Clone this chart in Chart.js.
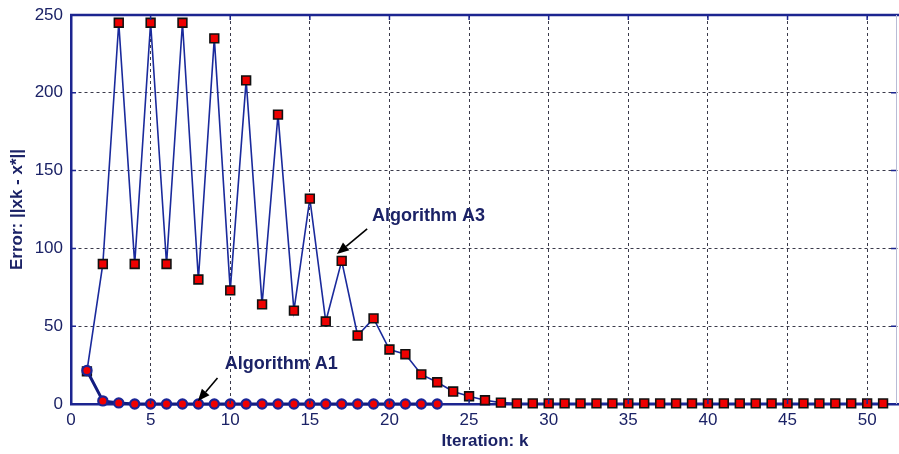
<!DOCTYPE html>
<html>
<head>
<meta charset="utf-8">
<script src="https://cdn.jsdelivr.net/npm/chart.js@4.4.1/dist/chart.umd.min.js"></script>
<style>
  html, body { margin: 0; padding: 0; background: #fff; }
  canvas { display: block; }
</style>
</head>
<body>
<canvas id="chart" width="899" height="454"></canvas>
<script>
// Data
const iterations = [];
for (let k = 1; k <= 51; k++) iterations.push(k);

const errorA3 = [21, 90, 245, 90, 245, 90, 245, 80, 235, 73,
                 208, 64, 186, 60, 132, 53, 92, 44, 55, 35,
                 32, 19, 14, 8, 5, 2.4, 0.9, 0.4, 0.4, 0.4,
                 0.4, 0.4, 0.4, 0.4, 0.4, 0.4, 0.4, 0.4, 0.4, 0.4,
                 0.4, 0.4, 0.4, 0.4, 0.4, 0.4, 0.4, 0.4, 0.4, 0.4, 0.4];
const errorA1 = [21.5, 2, 0.7, 0, 0, 0, 0, 0, 0, 0,
                 0, 0, 0, 0, 0, 0, 0, 0, 0, 0,
                 0, 0, 0];

const yTicks = [0, 50, 100, 150, 200, 250];

// Annotations (data coordinates)
const noteText = ['Algorithm A3', 'Algorithm A1'];
const noteAt = [[18.9, 121], [9.66, 25.7]];
const arrowFrom = [[18.6, 112.5], [9.2, 16.7]];
const arrowTo = [[16.7, 96.4], [7.97, 1.9]];

const navy = '#1c2590';
const textNavy = '#1b2266';

function pts(ys) {
  return ys.map((y, i) => ({ x: iterations[i], y: y }));
}

// Inside tick marks and the frame top/right
const framePlugin = {
  id: 'frame',
  afterDraw(chart) {
    const { ctx, chartArea: a, scales: { x, y } } = chart;
    ctx.save();
    ctx.strokeStyle = navy;
    ctx.lineWidth = 1.5;
    for (let v = 0; v <= 50; v += 5) {
      const px = x.getPixelForValue(v);
      ctx.beginPath();
      ctx.moveTo(px, a.top); ctx.lineTo(px, a.top + 5);
      ctx.moveTo(px, a.bottom); ctx.lineTo(px, a.bottom - 5);
      ctx.stroke();
    }
    yTicks.forEach(v => {
      const py = y.getPixelForValue(v);
      ctx.beginPath();
      ctx.moveTo(a.left, py); ctx.lineTo(a.left + 5, py);
      ctx.moveTo(a.right - 3, py); ctx.lineTo(a.right - 8, py);
      ctx.stroke();
    });
    // top border
    ctx.lineWidth = 2.5;
    ctx.beginPath();
    ctx.moveTo(a.left - 1, a.top); ctx.lineTo(a.right, a.top);
    ctx.stroke();
    // faint right border
    ctx.strokeStyle = '#b9bcd6';
    ctx.lineWidth = 1;
    ctx.beginPath();
    ctx.moveTo(a.right - 2.5, a.top); ctx.lineTo(a.right - 2.5, a.bottom);
    ctx.stroke();
    ctx.restore();
  },
  afterDatasetsDraw(chart) {
    const { ctx, scales: { x, y } } = chart;
    ctx.save();
    ctx.font = 'bold 18px "Liberation Sans", Arial, sans-serif';
    ctx.fillStyle = textNavy;
    ctx.textAlign = 'left';
    ctx.textBaseline = 'middle';
    noteText.forEach((t, i) => {
      ctx.fillText(t, x.getPixelForValue(noteAt[i][0]), y.getPixelForValue(noteAt[i][1]));
    });
    ctx.strokeStyle = '#000';
    ctx.fillStyle = '#000';
    ctx.lineWidth = 1.6;
    arrowFrom.forEach((f, i) => {
      const x1 = x.getPixelForValue(f[0]), y1 = y.getPixelForValue(f[1]);
      const x2 = x.getPixelForValue(arrowTo[i][0]), y2 = y.getPixelForValue(arrowTo[i][1]);
      const ang = Math.atan2(y2 - y1, x2 - x1);
      const hl = 12, hw = 5;
      const bx = x2 - hl * Math.cos(ang), by = y2 - hl * Math.sin(ang);
      ctx.beginPath();
      ctx.moveTo(x1, y1); ctx.lineTo(bx, by);
      ctx.stroke();
      ctx.beginPath();
      ctx.moveTo(x2, y2);
      ctx.lineTo(bx + hw * Math.sin(ang), by - hw * Math.cos(ang));
      ctx.lineTo(bx - hw * Math.sin(ang), by + hw * Math.cos(ang));
      ctx.closePath();
      ctx.fill();
    });
    ctx.restore();
  }
};

new Chart(document.getElementById('chart'), {
  type: 'line',
  plugins: [framePlugin],
  data: {
    datasets: [
      {
        label: 'Algorithm A1',
        data: pts(errorA1),
        borderColor: '#131d80',
        borderWidth: 3,
        pointStyle: 'circle',
        pointRadius: 4.6,
        pointBorderWidth: 2.2,
        pointBackgroundColor: '#f00000',
        pointBorderColor: '#1a2596',
        clip: false
      },
      {
        label: 'Algorithm A3',
        data: pts(errorA3),
        borderColor: '#1a2a9c',
        borderWidth: 1.6,
        pointStyle: 'rect',
        pointRadius: 6.2,
        pointBorderWidth: 1.6,
        pointBackgroundColor: '#ee0000',
        pointBorderColor: '#111111',
        clip: false
      }
    ]
  },
  options: {
    responsive: false,
    animation: false,
    layout: { autoPadding: false, padding: { top: 15, right: 0, left: 0, bottom: 0 } },
    plugins: { legend: { display: false }, tooltip: { enabled: false } },
    scales: {
      x: {
        type: 'linear',
        min: 0,
        max: 52,
        afterBuildTicks: s => { s.ticks = s.ticks.filter(t => t.value % 5 === 0); },
        afterFit: s => { s.height = 50; s.paddingLeft = 0; s.paddingRight = 0; },
        ticks: {
          stepSize: 5,
          color: textNavy,
          padding: 6,
          font: { family: '"Liberation Sans", Arial, sans-serif', size: 17 }
        },
        grid: { color: '#3a3a4a', lineWidth: 1, drawTicks: false },
        border: { color: navy, width: 2.5, dash: [3, 3] },
        title: {
          display: true,
          text: 'Iteration: k',
          color: textNavy,
          padding: { top: 0, bottom: 2 },
          font: { family: '"Liberation Sans", Arial, sans-serif', size: 17, weight: 'bold' }
        }
      },
      y: {
        min: 0,
        max: 250,
        afterBuildTicks: s => { s.ticks = yTicks.map(v => ({ value: v })); },
        afterFit: s => { s.width = 71; s.paddingTop = 0; s.paddingBottom = 0; },
        ticks: {
          color: textNavy,
          padding: 8,
          font: { family: '"Liberation Sans", Arial, sans-serif', size: 17 }
        },
        grid: { color: '#3a3a4a', lineWidth: 1, drawTicks: false },
        border: { color: navy, width: 2.5, dash: [3, 3] },
        title: {
          display: true,
          text: 'Error: ||xk - x*||',
          color: textNavy,
          padding: { top: 7, bottom: 0 },
          font: { family: '"Liberation Sans", Arial, sans-serif', size: 17, weight: 'bold' }
        }
      }
    }
  }
});
</script>
</body>
</html>
